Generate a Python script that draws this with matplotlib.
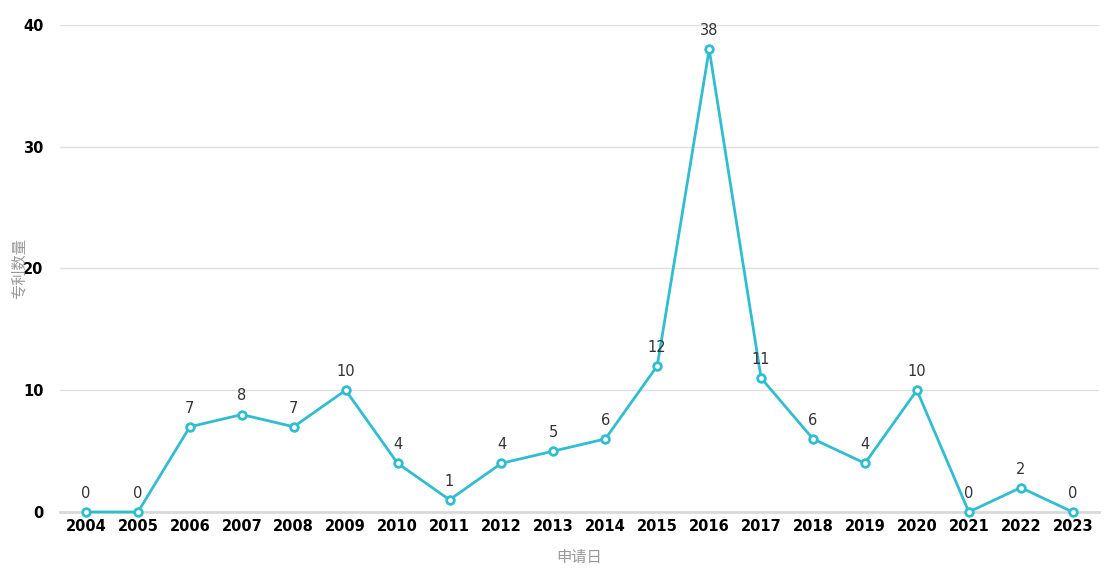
import numpy as np
import matplotlib.pyplot as plt

plt.rcParams['font.family'] = ['DejaVu Sans', 'Noto Sans CJK SC']

years = ['2004', '2005', '2006', '2007', '2008', '2009', '2010', '2011', '2012', '2013',
         '2014', '2015', '2016', '2017', '2018', '2019', '2020', '2021', '2022', '2023']
counts = [0, 0, 7, 8, 7, 10, 4, 1, 4, 5, 6, 12, 38, 11, 6, 4, 10, 0, 2, 0]

line_color = '#31bdd0'
cjk = ['Noto Sans CJK SC', 'DejaVu Sans']

fig = plt.figure(figsize=(11.12, 5.75), dpi=100)
ax = fig.add_axes([0.054, 0.1096, 0.934, 0.8469])

x = np.arange(len(years))
ax.plot(x, counts, color=line_color, lw=2, marker='o', ms=5.5,
        mfc='white', mec=line_color, mew=2, zorder=3, clip_on=False)

for xi, v in zip(x, counts):
    ax.annotate(str(v), (xi, v), xytext=(0, 8), textcoords='offset points',
                ha='center', va='bottom', fontsize=10.5, color='#333333')

ax.set_xlim(-0.5, len(years) - 0.5)
ax.set_ylim(0, 40)
ax.set_yticks([0, 10, 20, 30, 40])
ax.set_xticks(x)
ax.set_xticklabels(years)

ax.grid(axis='y', color='#e0e0e0', lw=1)
ax.set_axisbelow(True)
for s in ['top', 'right', 'left']:
    ax.spines[s].set_visible(False)
ax.spines['bottom'].set_color('#d9d9d9')
ax.spines['bottom'].set_linewidth(2)

ax.tick_params(length=0, labelsize=10.5, labelcolor='black', pad=5)
ax.tick_params(axis='y', pad=12)
for lab in ax.get_xticklabels() + ax.get_yticklabels():
    lab.set_fontweight('bold')

ax.set_xlabel('申请日', fontsize=11, color='#999999', family=cjk)
ax.set_ylabel('专利数量', fontsize=11, color='#999999', family=cjk)
ax.xaxis.set_label_coords(0.5, -0.076)
ax.yaxis.set_label_coords(-0.031, 0.5)

fig.savefig('out.png', dpi=100)
